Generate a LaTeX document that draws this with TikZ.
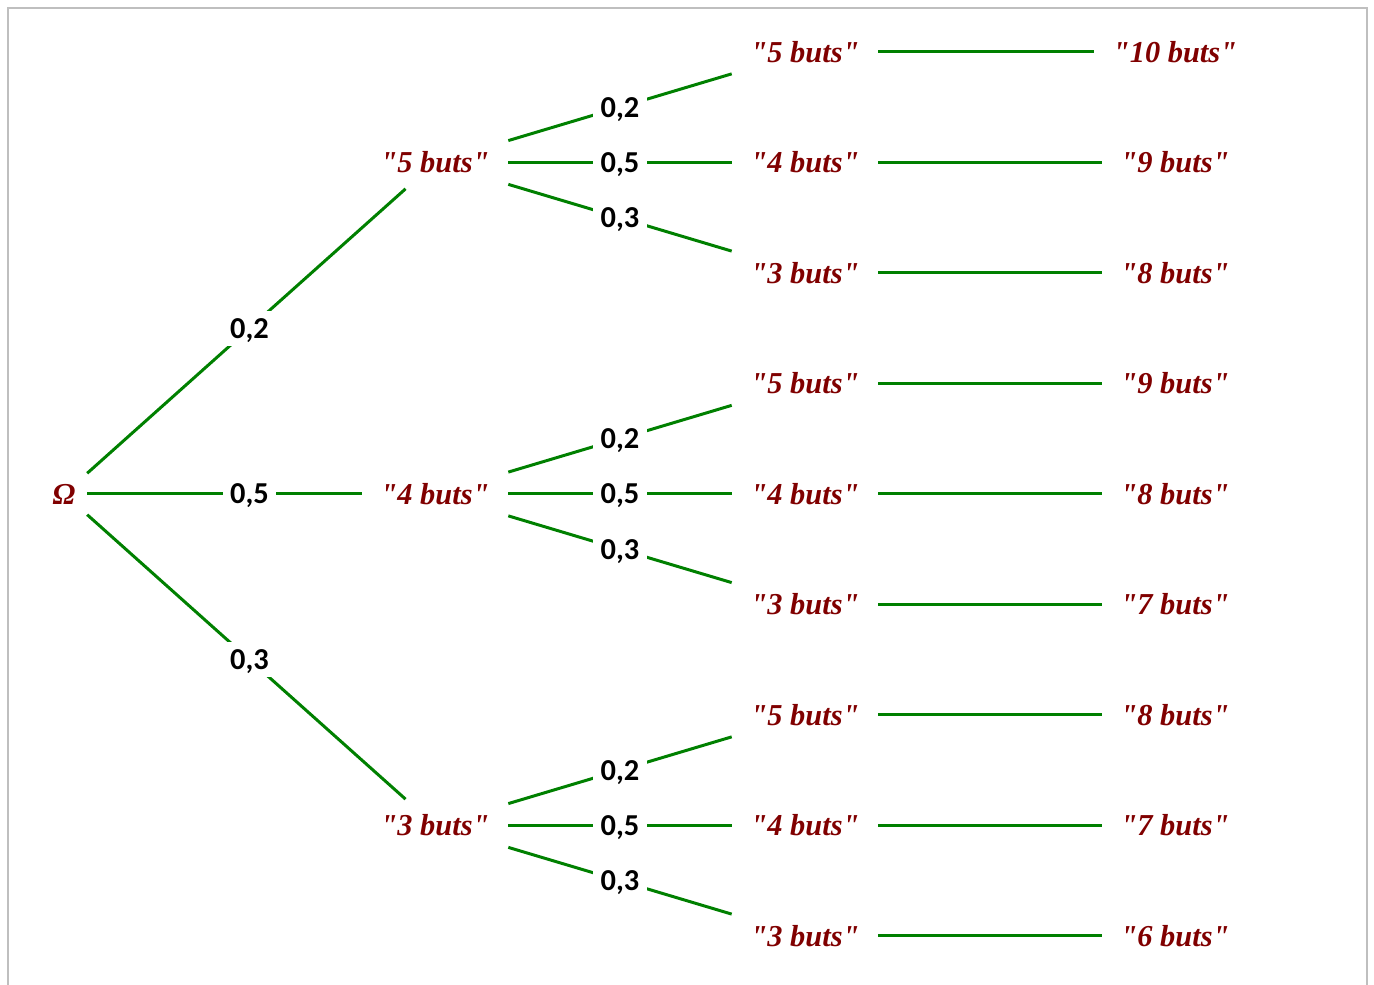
\documentclass[tikz,border=0pt]{standalone}
\usepackage{fontspec}
\setmainfont{Liberation Serif}[Ligatures=TeXOff]
\newfontfamily\probfont{Carlito}
\usetikzlibrary{positioning, calc}
\definecolor{outcome}{RGB}{128,0,0}
\definecolor{branchgreen}{RGB}{0,128,0}
\definecolor{framegray}{RGB}{191,191,191}

\begin{document}
\begin{tikzpicture}[
    state/.style={text=outcome, font=\fontsize{17.3}{20}\selectfont\bfseries\itshape, inner xsep=0.37cm, minimum height=1.04cm},
    prob/.style={fill=white, font=\fontsize{17.3}{20}\selectfont\probfont\bfseries, inner xsep=0.15cm, inner ysep=0.15cm, text depth=0pt},
    branch/.style={draw=branchgreen, line width=1.7pt}
]
    \useasboundingbox (0,0) rectangle (27.48,19.70);
    \draw[framegray, line width=1.1pt] (0.16,0) -- (0.16,19.54) -- (27.34,19.54) -- (27.34,0);

    % root and first draw
    \node[state, inner xsep=0.23cm] (omega) at (1.28,9.82) {Ω};
    \node[state] (b5) at (8.70,16.45) {"5 buts"};
    \node[state] (b4) at (8.70,9.82) {"4 buts"};
    \node[state] (b3) at (8.70,3.19) {"3 buts"};

    % second draw
    \node[state] (b5-5) at (16.10,18.66) {"5 buts"};
    \node[state] (b5-4) at (16.10,16.45) {"4 buts"};
    \node[state] (b5-3) at (16.10,14.24) {"3 buts"};
    \node[state] (b4-5) at (16.10,12.03) {"5 buts"};
    \node[state] (b4-4) at (16.10,9.82) {"4 buts"};
    \node[state] (b4-3) at (16.10,7.61) {"3 buts"};
    \node[state] (b3-5) at (16.10,5.40) {"5 buts"};
    \node[state] (b3-4) at (16.10,3.19) {"4 buts"};
    \node[state] (b3-3) at (16.10,0.98) {"3 buts"};

    % totals
    \node[state] (t5-5) at (23.50,18.66) {"10 buts"};
    \node[state] (t5-4) at (23.50,16.45) {"9 buts"};
    \node[state] (t5-3) at (23.50,14.24) {"8 buts"};
    \node[state] (t4-5) at (23.50,12.03) {"9 buts"};
    \node[state] (t4-4) at (23.50,9.82) {"8 buts"};
    \node[state] (t4-3) at (23.50,7.61) {"7 buts"};
    \node[state] (t3-5) at (23.50,5.40) {"8 buts"};
    \node[state] (t3-4) at (23.50,3.19) {"7 buts"};
    \node[state] (t3-3) at (23.50,0.98) {"6 buts"};

    % branches
    \draw[branch] (omega) -- (b5) node[prob] at ($(omega)!.5!(b5)$) {0,2};
    \draw[branch] (omega) -- (b4) node[prob] at ($(omega)!.5!(b4)$) {0,5};
    \draw[branch] (omega) -- (b3) node[prob] at ($(omega)!.5!(b3)$) {0,3};

    \draw[branch] (b5) -- node[prob] {0,2} (b5-5);
    \draw[branch] (b5) -- node[prob] {0,5} (b5-4);
    \draw[branch] (b5) -- node[prob] {0,3} (b5-3);
    \draw[branch] (b4) -- node[prob] {0,2} (b4-5);
    \draw[branch] (b4) -- node[prob] {0,5} (b4-4);
    \draw[branch] (b4) -- node[prob] {0,3} (b4-3);
    \draw[branch] (b3) -- node[prob] {0,2} (b3-5);
    \draw[branch] (b3) -- node[prob] {0,5} (b3-4);
    \draw[branch] (b3) -- node[prob] {0,3} (b3-3);

    \draw[branch] (b5-5) -- (t5-5);
    \draw[branch] (b5-4) -- (t5-4);
    \draw[branch] (b5-3) -- (t5-3);
    \draw[branch] (b4-5) -- (t4-5);
    \draw[branch] (b4-4) -- (t4-4);
    \draw[branch] (b4-3) -- (t4-3);
    \draw[branch] (b3-5) -- (t3-5);
    \draw[branch] (b3-4) -- (t3-4);
    \draw[branch] (b3-3) -- (t3-3);
\end{tikzpicture}
\end{document}
